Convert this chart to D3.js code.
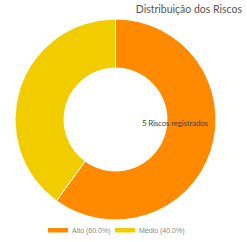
<!DOCTYPE html>
<meta charset="utf-8">
<script src="https://d3js.org/d3.v7.min.js"></script>
<style>
  body { margin: 0; background: #fff; }
  svg { font-family: Lato, "Open Sans", sans-serif; }
</style>
<div id="chart"></div>
<script>
// data
var labels = ["Alto", "Médio"];
var counts = [3, 2];
var colors = ["#ff8a00", "#f1cd00"];
var title = "Distribuição dos Riscos";
var centerText = "5 Riscos registrados";

var width = 247, height = 242;
var cx = 115.5, cy = 119.5;
var outerR = 100.5, innerR = 51.5;

var svg = d3.select("#chart").append("svg")
  .attr("width", width)
  .attr("height", height);

var total = d3.sum(counts);
var color = d3.scaleOrdinal().domain(labels).range(colors);

var pie = d3.pie().sort(null).value(function(d) { return d.value; });
var data = labels.map(function(l, i) { return { key: l, value: counts[i] }; });

var arc = d3.arc().innerRadius(innerR).outerRadius(outerR);

var g = svg.append("g").attr("transform", "translate(" + cx + "," + cy + ")");

g.selectAll("path")
  .data(pie(data))
  .enter()
  .append("path")
  .attr("d", arc)
  .attr("fill", function(d) { return color(d.data.key); })
  .attr("stroke", "#fff")
  .attr("stroke-width", 1);

// title
svg.append("text")
  .attr("x", 242)
  .attr("y", 13)
  .attr("text-anchor", "end")
  .style("font-size", "10.5px")
  .style("fill", "#555")
  .text(title);

// center label
svg.append("text")
  .attr("x", 142)
  .attr("y", 126)
  .attr("textLength", 66)
  .style("font-size", "8px")
  .style("fill", "#444")
  .text(centerText);

// legend
var legendX = [48, 115];
var legend = svg.selectAll(".leg")
  .data(data)
  .enter()
  .append("g")
  .attr("transform", function(d, i) { return "translate(" + legendX[i] + ",228)"; });

legend.append("rect")
  .attr("width", 20)
  .attr("height", 4.5)
  .attr("fill", function(d) { return color(d.key); });

legend.append("text")
  .attr("x", 24)
  .attr("y", 5)
  .style("font-family", "'Liberation Sans', Arial, sans-serif")
  .style("font-size", "7px")
  .style("fill", "#888")
  .text(function(d) { return d.key + " (" + (d.value / total * 100).toFixed(1) + "%)"; });
</script>
